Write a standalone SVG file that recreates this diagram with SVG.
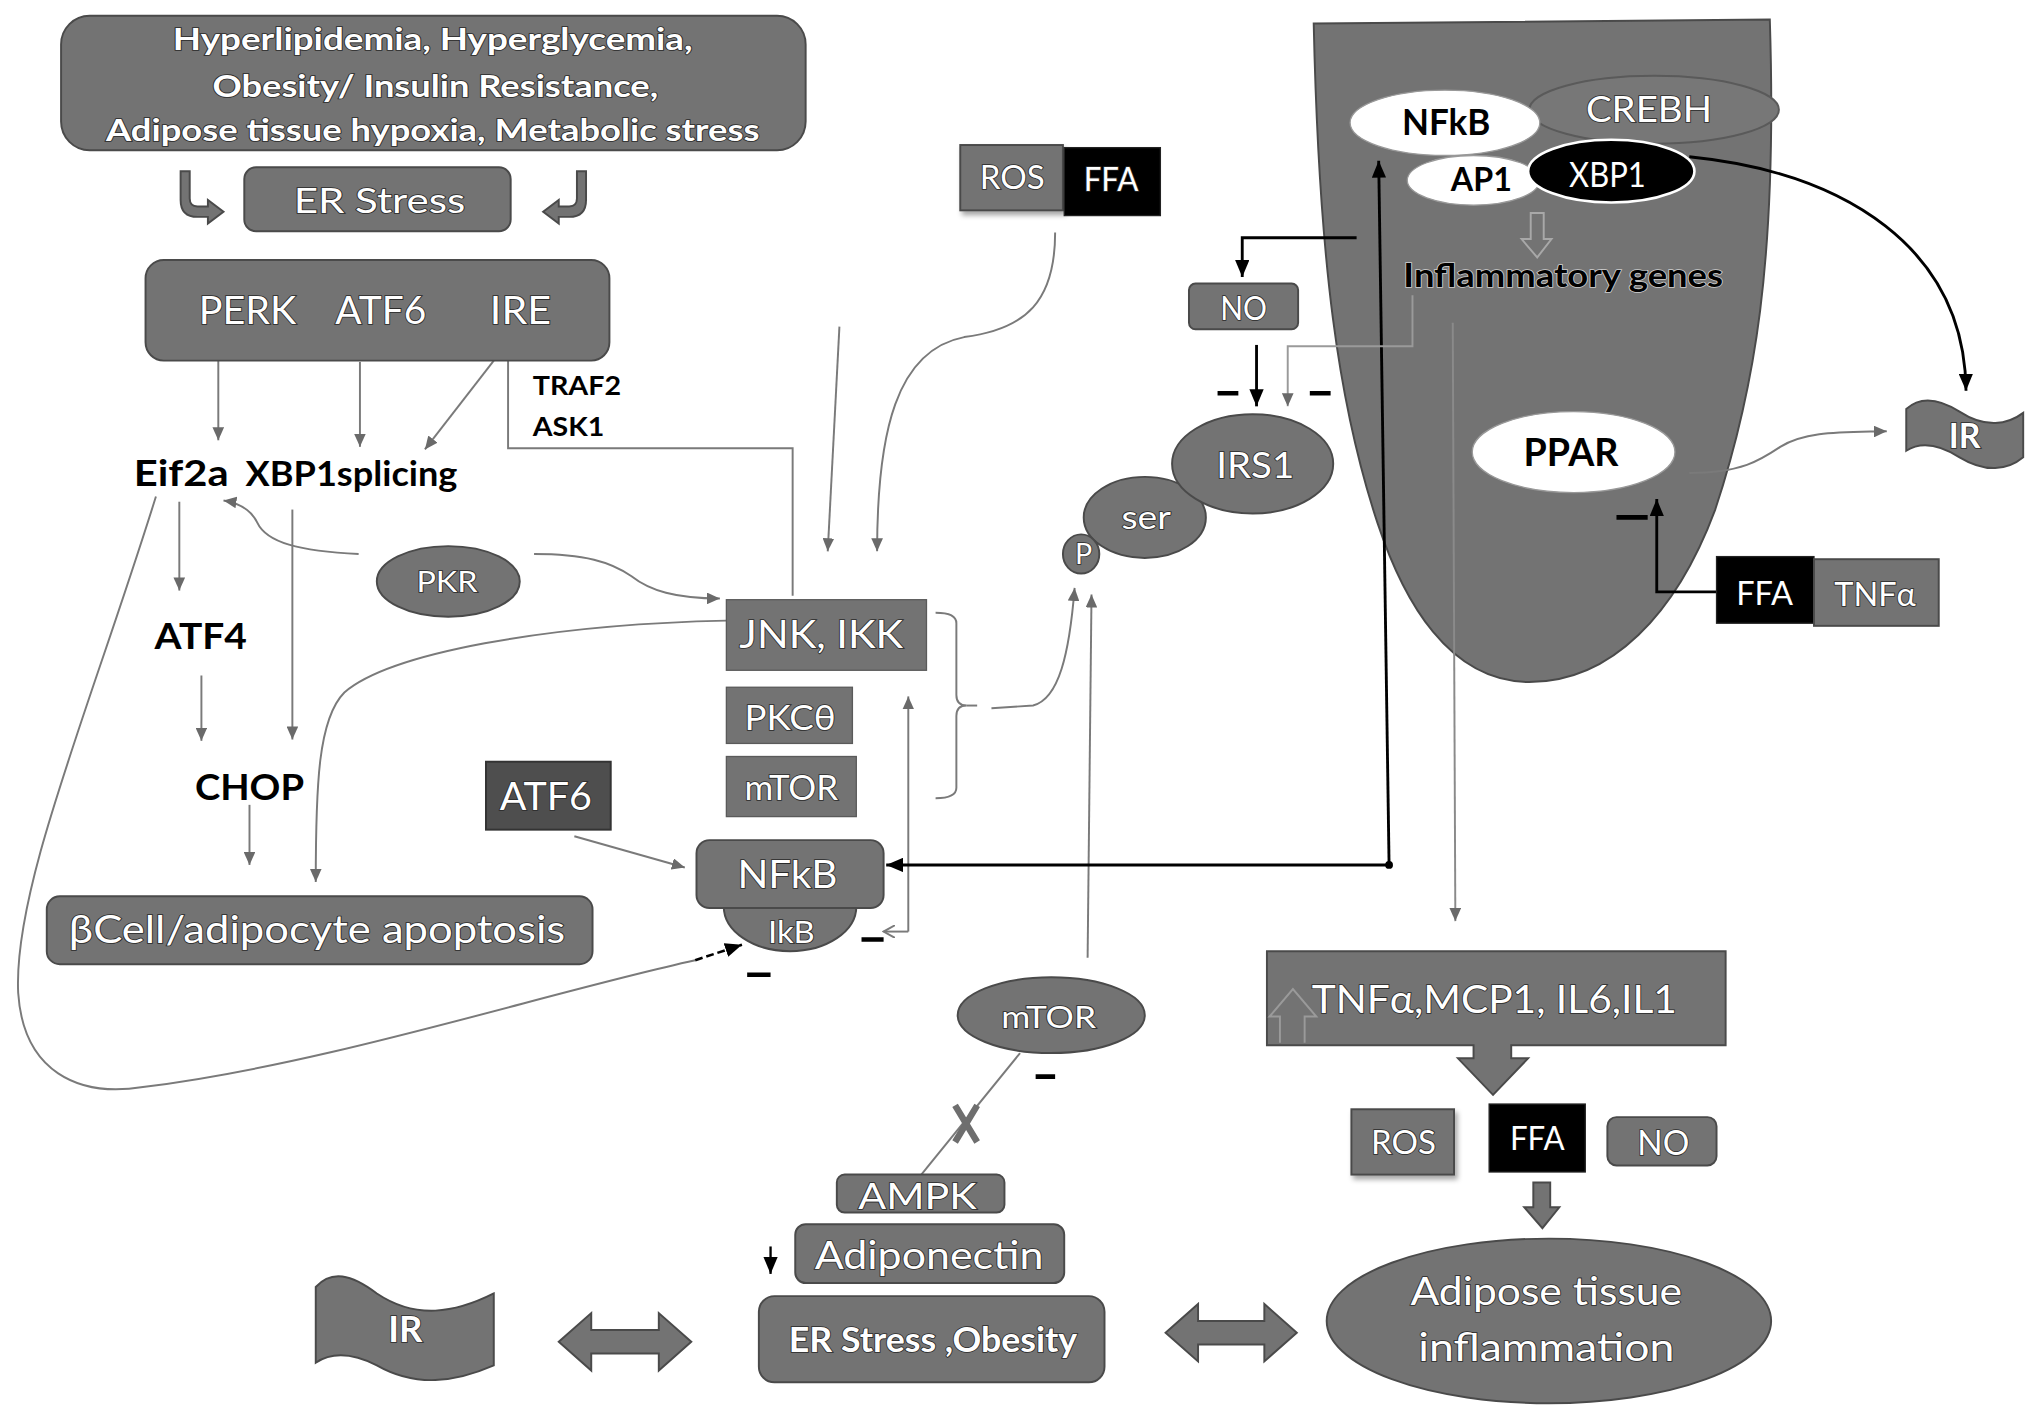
<svg xmlns="http://www.w3.org/2000/svg" width="2031" height="1415" viewBox="0 0 2031 1415">
<defs>
<style>
.g{fill:#737373;stroke:#4a4a4a;stroke-width:1.5}
.gb{fill:#737373;stroke:#5a5a5a;stroke-width:1}
.k{fill:#000;stroke:#222;stroke-width:1}
.w{font-family:Lato,"Liberation Sans",sans-serif;fill:#fff;stroke:#2a2a2a;stroke-width:1.3;paint-order:stroke;}
.b{font-family:Lato,"Liberation Sans",sans-serif;fill:#000;font-weight:bold}
.bs{font-family:Lato,"Liberation Sans",sans-serif;fill:#000;font-weight:bold;stroke:#d0d0d0;stroke-width:1.2;paint-order:stroke}
.c{fill:none;stroke:#7a7a7a;stroke-width:1.5}
.cb{fill:none;stroke:#000;stroke-width:2.2}
.m{stroke:#000;stroke-width:3.5}
</style>
<marker id="aG" markerUnits="userSpaceOnUse" markerWidth="10" markerHeight="9" refX="10" refY="4.5" orient="auto"><path d="M0,0 L10,4.5 L0,9 Z" fill="#6a6a6a"/></marker>
<marker id="aB" markerUnits="userSpaceOnUse" markerWidth="13" markerHeight="11" refX="13" refY="5.5" orient="auto"><path d="M0,0 L13,5.5 L0,11 Z" fill="#000"/></marker>
<marker id="aV" markerUnits="userSpaceOnUse" markerWidth="10" markerHeight="10" refX="9" refY="5" orient="auto"><path d="M0,0 L9,5 L0,10" fill="none" stroke="#7a7a7a" stroke-width="1.5"/></marker>
<filter id="sh" x="-20%" y="-20%" width="150%" height="150%"><feDropShadow dx="2" dy="3" stdDeviation="2" flood-color="#000" flood-opacity="0.35"/></filter>
</defs>
<rect width="2031" height="1415" fill="#fff"/>
<g transform="scale(1.29942,1.30656)">

<!-- big right shape -->
<g id="cell">
<path class="g" d="M1011,18 L1362,15 C1368,200 1350,300 1320,390 C1290,470 1240,522 1177,522 C1115,522 1080,460 1060,400 C1030,310 1015,200 1011,18 Z"/>
</g>

<g id="connectors">
<!-- left region -->
<path class="c" d="M168,276 L168,337" marker-end="url(#aG)"/>
<path class="c" d="M277,277 L277,342" marker-end="url(#aG)"/>
<path class="c" d="M380,276 L327,344" marker-end="url(#aG)"/>
<path class="c" d="M391,276 L391,343 L610,343 L610,456"/>
<path class="c" d="M138,384 L138,452" marker-end="url(#aG)"/>
<path class="c" d="M155,517 L155,567" marker-end="url(#aG)"/>
<path class="c" d="M225,390 L225,566" marker-end="url(#aG)"/>
<path class="c" d="M192,616 L192,662" marker-end="url(#aG)"/>
<path class="c" d="M276,424 C230,422 205,415 198,400 C193,390 185,385 172,383" marker-end="url(#aG)"/>
<path class="c" d="M411,424 C450,424 470,430 486,441 C500,452 520,458 554,458" marker-end="url(#aG)"/>
<path class="c" d="M120,380 C70,540 10,680 14,760 C18,820 60,840 110,832 C250,815 420,760 535,735"/>
<path d="M535,735 L571,723" fill="none" stroke="#000" stroke-width="2" stroke-dasharray="6,3" marker-end="url(#aB)"/>
<path class="c" d="M559,475 C420,478 300,500 265,530 C245,550 243,600 243,675" marker-end="url(#aG)"/>
<path class="c" d="M442,640 L527,664" marker-end="url(#aG)"/>
<path class="c" d="M646,250 L637,422" marker-end="url(#aG)"/>
<path class="c" d="M812,178 C812,230 790,252 742,258 C690,268 675,330 675,422" marker-end="url(#aG)"/>
<!-- bracket -->
<path class="c" d="M720,469 Q736,469 736,477 L736,532 Q736,540 744,540 Q736,540 736,548 L736,603 Q736,611 720,611"/>
<path class="c" d="M744,540 L752,540"/>
<path class="c" d="M763,542 L795,540 C815,535 823,500 827,450" marker-end="url(#aG)"/>
<path class="c" d="M837,733 L840,455" marker-end="url(#aG)"/>
<path class="c" d="M699,713 L699,533" marker-end="url(#aG)"/>
<path class="c" d="M699,713 L680,713" marker-end="url(#aV)"/>
<!-- black NFkB links -->
<path class="cb" d="M1069,662 L682,662" marker-end="url(#aB)"/>
<path class="cb" d="M1069,662 L1061,123" marker-end="url(#aB)"/>
<circle cx="1069" cy="662" r="3" fill="#000"/>
<!-- NO links -->
<path class="cb" d="M1044,182 L956,182 L956,212" marker-end="url(#aB)"/>
<path class="cb" d="M967,264 L967,311" marker-end="url(#aB)"/>
<path fill="none" stroke="#9a9a9a" stroke-width="1.5" d="M1087,226 L1087,265 L991,265 L991,311" marker-end="url(#aG)"/>
<!-- to TNF box -->
<path fill="none" stroke="#8a8a8a" stroke-width="1.5" d="M1118,247 L1120,705" marker-end="url(#aG)"/>
<!-- XBP1 to IR -->
<path class="cb" d="M1300,120 C1420,132 1512,190 1513,299" marker-end="url(#aB)"/>
<!-- PPAR to IR -->
<path class="c" d="M1300,362 C1340,362 1355,352 1370,342 C1390,330 1415,331 1452,330" marker-end="url(#aG)"/>
<!-- FFA to PPAR -->
<path class="cb" d="M1321,453 L1275,453 L1275,382" marker-end="url(#aB)"/>
<!-- mTOR to AMPK -->
<path class="c" d="M785,806 L709,899"/>
<path d="M735,846 L752,874 M752,846 L735,874" stroke="#6e6e6e" stroke-width="5" fill="none"/>
<path d="M593,954 L593,975" stroke="#000" stroke-width="1.8" marker-end="url(#aB)"/>
<!-- inhibition marks -->
<path class="m" d="M663,719 L680,719 M575,746 L593,746 M937,301 L953,301 M1008,301 L1024,301 M1244,396 L1268,396 M797,824 L812,824"/>
</g>

<g id="top-box">
<rect class="g" x="47" y="12" width="573" height="103" rx="22"/>
<text class="w" x="333" y="38" font-size="23" font-weight="bold" text-anchor="middle" textLength="400" lengthAdjust="spacingAndGlyphs">Hyperlipidemia, Hyperglycemia,</text>
<text class="w" x="335" y="74" font-size="23" font-weight="bold" text-anchor="middle" textLength="343" lengthAdjust="spacingAndGlyphs">Obesity/ Insulin Resistance,</text>
<text class="w" x="333" y="108" font-size="23" font-weight="bold" text-anchor="middle" textLength="503" lengthAdjust="spacingAndGlyphs">Adipose tissue hypoxia, Metabolic stress</text>
</g>

<g id="hooks">
<path class="g" d="M139,131 L146,131 L146,152 Q146,158 152,158 L160,158 L160,153 L172,162 L160,171 L160,166 L152,166 Q139,166 139,153 Z"/>
<path class="g" transform="translate(590,0) scale(-1,1)" d="M139,131 L146,131 L146,152 Q146,158 152,158 L160,158 L160,153 L172,162 L160,171 L160,166 L152,166 Q139,166 139,153 Z"/>
</g>

<g id="er-stress">
<rect class="g" x="188" y="128" width="205" height="49" rx="9"/>
<text class="w" x="292" y="163" font-size="27" text-anchor="middle" textLength="132" lengthAdjust="spacingAndGlyphs">ER Stress</text>
</g>

<g id="sensors">
<rect class="g" x="112" y="199" width="357" height="77" rx="14"/>
<text class="w" x="153" y="248" font-size="29" textLength="75" lengthAdjust="spacingAndGlyphs">PERK</text>
<text class="w" x="258" y="248" font-size="29" textLength="70" lengthAdjust="spacingAndGlyphs">ATF6</text>
<text class="w" x="377" y="248" font-size="29" textLength="47" lengthAdjust="spacingAndGlyphs">IRE</text>
</g>

<g id="traf2-ask1">
<text class="b" x="410" y="302" font-size="21" textLength="68" lengthAdjust="spacingAndGlyphs">TRAF2</text>
<text class="b" x="410" y="334" font-size="21" textLength="55" lengthAdjust="spacingAndGlyphs">ASK1</text>
</g>

<g id="eif2a"><text class="b" x="103" y="372" font-size="27" textLength="73" lengthAdjust="spacingAndGlyphs">Eif2a</text></g>
<g id="xbp1splicing"><text class="b" x="189" y="372" font-size="26" textLength="163" lengthAdjust="spacingAndGlyphs">XBP1splicing</text></g>
<g id="atf4"><text class="b" x="119" y="497" font-size="28" textLength="71" lengthAdjust="spacingAndGlyphs">ATF4</text></g>
<g id="chop"><text class="b" x="150" y="612" font-size="28" textLength="84" lengthAdjust="spacingAndGlyphs">CHOP</text></g>

<g id="apoptosis">
<rect class="g" x="36" y="686" width="420" height="52" rx="10"/>
<text class="w" x="244" y="722" font-size="29" text-anchor="middle" textLength="382" lengthAdjust="spacingAndGlyphs">βCell/adipocyte apoptosis</text>
</g>

<g id="pkr">
<ellipse class="g" cx="345" cy="445" rx="55" ry="27"/>
<text class="w" x="344" y="453" font-size="22" text-anchor="middle" textLength="47" lengthAdjust="spacingAndGlyphs">PKR</text>
</g>

<g id="jnk">
<rect class="gb" x="559" y="459" width="154" height="54"/>
<text class="w" x="632" y="496" font-size="30" text-anchor="middle" textLength="126" lengthAdjust="spacingAndGlyphs">JNK, IKK</text>
</g>
<g id="pkc">
<rect class="gb" x="559" y="526" width="97" height="43"/>
<text class="w" x="608" y="559" font-size="26" text-anchor="middle" textLength="70" lengthAdjust="spacingAndGlyphs">PKCθ</text>
</g>
<g id="mtor-box">
<rect class="gb" x="559" y="579" width="100" height="46"/>
<text class="w" x="609" y="612" font-size="26" text-anchor="middle" textLength="72" lengthAdjust="spacingAndGlyphs">mTOR</text>
</g>

<g id="atf6">
<rect x="374" y="583" width="96" height="52" fill="#4e4e4e" stroke="#333" stroke-width="1.5"/>
<text class="w" x="420" y="620" font-size="29" text-anchor="middle" textLength="71" lengthAdjust="spacingAndGlyphs">ATF6</text>
</g>

<g id="nfkb-ikb">
<path class="g" d="M557,694 A51,34 0 0 0 659,694 Z"/>
<rect class="g" x="536" y="643" width="144" height="52" rx="10"/>
<text class="w" x="606" y="680" font-size="29" text-anchor="middle" textLength="77" lengthAdjust="spacingAndGlyphs">NFkB</text>
<text class="w" x="609" y="722" font-size="24" text-anchor="middle" textLength="36" lengthAdjust="spacingAndGlyphs">IkB</text>
</g>

<g id="ros-ffa-top">
<rect class="g" x="739" y="111" width="79" height="50" filter="url(#sh)"/>
<rect class="k" x="819" y="113" width="74" height="52"/>
<text class="w" x="779" y="145" font-size="25" text-anchor="middle" textLength="50" lengthAdjust="spacingAndGlyphs">ROS</text>
<text class="w" x="855" y="146" font-size="25" text-anchor="middle" textLength="42" lengthAdjust="spacingAndGlyphs" stroke="none">FFA</text>
</g>

<g id="creb-complex">
<ellipse cx="1273" cy="84" rx="96" ry="26" fill="#777" stroke="#5a5a5a" stroke-width="1.5"/>
<text class="w" x="1269" y="93" font-size="28" text-anchor="middle" textLength="97" lengthAdjust="spacingAndGlyphs">CREBH</text>
<ellipse cx="1112" cy="94" rx="73" ry="25" fill="#fff" stroke="#999" stroke-width="1"/>
<text class="b" x="1113" y="103" font-size="27" text-anchor="middle" textLength="68" lengthAdjust="spacingAndGlyphs">NFkB</text>
<ellipse cx="1134" cy="138" rx="51" ry="19" fill="#fff" stroke="#999" stroke-width="1"/>
<text class="b" x="1140" y="146" font-size="25" text-anchor="middle" textLength="47" lengthAdjust="spacingAndGlyphs">AP1</text>
<ellipse cx="1240" cy="131" rx="64" ry="24" fill="#000" stroke="#fff" stroke-width="2"/>
<text x="1237" y="143" font-size="26" text-anchor="middle" textLength="59" lengthAdjust="spacingAndGlyphs" fill="#fff" font-family="Lato,'Liberation Sans',sans-serif">XBP1</text>
<path d="M1178,163 L1188,163 L1188,183 L1194,183 L1183,197 L1171,183 L1178,183 Z" fill="none" stroke="#a8a8a8" stroke-width="1.5"/>
</g>
<g id="inflammatory-genes"><text class="bs" x="1203" y="220" font-size="25" text-anchor="middle" textLength="246" lengthAdjust="spacingAndGlyphs">Inflammatory genes</text></g>

<g id="no-top">
<rect class="g" x="915" y="217" width="84" height="35" rx="5"/>
<text class="w" x="957" y="245" font-size="25" text-anchor="middle" textLength="36" lengthAdjust="spacingAndGlyphs">NO</text>
</g>

<g id="irs1">
<ellipse class="g" cx="881" cy="396" rx="47" ry="31"/>
<text class="w" x="882" y="405" font-size="25" text-anchor="middle" textLength="38" lengthAdjust="spacingAndGlyphs">ser</text>
<ellipse class="g" cx="832" cy="424" rx="14" ry="15"/>
<text class="w" x="834" y="432" font-size="22" text-anchor="middle">P</text>
<ellipse class="g" cx="964" cy="355" rx="62" ry="38"/>
<text class="w" x="966" y="366" font-size="28" text-anchor="middle" textLength="60" lengthAdjust="spacingAndGlyphs">IRS1</text>
</g>

<g id="ir-right">
<path class="g" d="M1467,313 C1478,303 1492,305 1508,315 C1528,328 1545,325 1557,316 L1557,350 C1545,360 1528,362 1508,350 C1492,340 1478,338 1467,345 Z"/>
<text class="w" x="1512" y="343" font-size="26" font-weight="bold" text-anchor="middle">IR</text>
</g>

<g id="ppar">
<ellipse cx="1211" cy="346" rx="78" ry="31" fill="#fff" stroke="#999" stroke-width="1"/>
<text class="b" x="1209" y="357" font-size="29" text-anchor="middle" textLength="73" lengthAdjust="spacingAndGlyphs">PPAR</text>
</g>

<g id="ffa-tnf">
<rect class="k" x="1321" y="426" width="75" height="51"/>
<rect class="g" x="1396" y="428" width="96" height="51"/>
<text x="1358" y="463" font-size="25" text-anchor="middle" fill="#fff" font-family="Lato,'Liberation Sans',sans-serif">FFA</text>
<text class="w" x="1443" y="464" font-size="25" text-anchor="middle">TNFα</text>
</g>

<g id="cytokines">
<path class="g" d="M975,728 L1328,728 L1328,800 L1163,800 L1163,810 L1176,810 L1149,838 L1122,810 L1134,810 L1134,800 L975,800 Z"/>
<path d="M985,798 L985,778 L977,778 L995,757 L1013,778 L1004,778 L1004,798" fill="none" stroke="#9a9a9a" stroke-width="1.5"/>
<text class="w" x="1150" y="775" font-size="30" text-anchor="middle" textLength="281" lengthAdjust="spacingAndGlyphs">TNFα,MCP1, IL6,IL1</text>
</g>

<g id="ros-bottom">
<rect class="g" x="1040" y="849" width="79" height="50" filter="url(#sh)"/>
<text class="w" x="1080" y="883" font-size="25" text-anchor="middle" textLength="50" lengthAdjust="spacingAndGlyphs">ROS</text>
</g>
<g id="ffa-bottom">
<rect class="k" x="1146" y="845" width="74" height="52"/>
<text x="1183" y="880" font-size="25" text-anchor="middle" fill="#fff" font-family="Lato,'Liberation Sans',sans-serif" textLength="42" lengthAdjust="spacingAndGlyphs">FFA</text>
<path class="g" d="M1180,905 L1193,905 L1193,924 L1200,924 L1187,940 L1173,924 L1180,924 Z"/>
</g>
<g id="no-bottom">
<rect class="g" x="1237" y="855" width="84" height="37" rx="7"/>
<text class="w" x="1280" y="884" font-size="27" text-anchor="middle" textLength="40" lengthAdjust="spacingAndGlyphs">NO</text>
</g>

<g id="adipose-inflammation">
<ellipse class="g" cx="1192" cy="1011" rx="171" ry="63"/>
<text class="w" x="1190" y="999" font-size="30" text-anchor="middle" textLength="209" lengthAdjust="spacingAndGlyphs">Adipose tissue</text>
<text class="w" x="1190" y="1042" font-size="30" text-anchor="middle" textLength="197" lengthAdjust="spacingAndGlyphs">inflammation</text>
</g>

<g id="double-arrows">
<path class="g" d="M897,1020 L922,998 L922,1011 L973,1011 L973,998 L998,1020 L973,1042 L973,1029 L922,1029 L922,1042 Z"/>
<path class="g" d="M430,1027 L455,1005 L455,1018 L507,1018 L507,1005 L532,1027 L507,1049 L507,1036 L455,1036 L455,1049 Z"/>
</g>

<g id="er-obesity">
<rect class="g" x="584" y="992" width="266" height="66" rx="12"/>
<text class="w" x="718" y="1035" font-size="26" font-weight="bold" text-anchor="middle" textLength="222" lengthAdjust="spacingAndGlyphs">ER Stress ,Obesity</text>
</g>
<g id="adiponectin">
<rect class="g" x="612" y="937" width="207" height="45" rx="8"/>
<text class="w" x="715" y="971" font-size="30" text-anchor="middle" textLength="176" lengthAdjust="spacingAndGlyphs">Adiponectin</text>
</g>
<g id="ampk">
<rect class="g" x="644" y="899" width="129" height="29" rx="6"/>
<text class="w" x="706" y="925" font-size="28" text-anchor="middle" textLength="91" lengthAdjust="spacingAndGlyphs">AMPK</text>
</g>
<g id="mtor-ellipse">
<ellipse class="g" cx="809" cy="777" rx="72" ry="29"/>
<text class="w" x="807" y="787" font-size="23" text-anchor="middle" textLength="73" lengthAdjust="spacingAndGlyphs">mTOR</text>
</g>

<g id="ir-left">
<path class="g" d="M243,985 C255,972 270,975 290,990 C320,1010 350,1005 380,990 L380,1045 C350,1058 320,1062 290,1045 C270,1035 255,1035 243,1043 Z"/>
<text class="w" x="312" y="1027" font-size="28" font-weight="bold" text-anchor="middle">IR</text>
</g>

</g>
</svg>
